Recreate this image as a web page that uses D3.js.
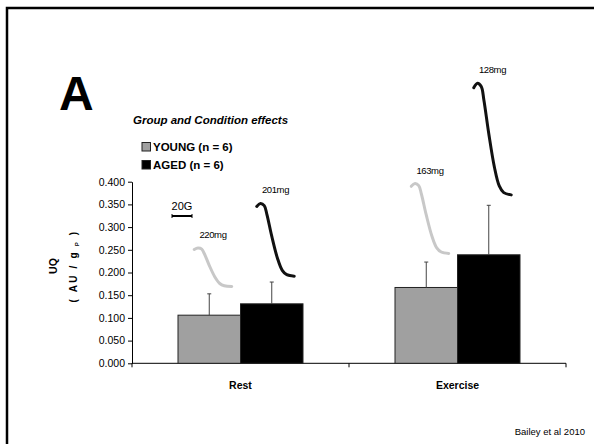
<!DOCTYPE html>
<html>
<head>
<meta charset="utf-8">
<script src="https://cdn.jsdelivr.net/npm/d3@7"></script>
<style>
  body { margin: 0; background: #fff; }
  svg { display: block; font-family: Arial, "Liberation Sans", sans-serif; }
</style>
</head>
<body>
<svg width="594" height="444"></svg>
<script>
var svg = d3.select("svg"),
  width = +svg.attr("width"),
  height = +svg.attr("height");

// data
var conditions = ["Rest", "Exercise"];
var groups = ["YOUNG (n = 6)", "AGED (n = 6)"];
var young = [0.106, 0.167];
var aged = [0.131, 0.239];
var youngSD = [0.047, 0.056];
var agedSD = [0.048, 0.109];
var yTicks = [0, 0.05, 0.1, 0.15, 0.2, 0.25, 0.3, 0.35, 0.4];
// force trace inserts: label, top and bottom in UQ units
var traceLabels = ["220mg", "201mg", "163mg", "128mg"];
var traceTop = [0.254, 0.352, 0.396, 0.617];
var traceBottom = [0.169, 0.192, 0.242, 0.371];
// generic trace shape (fraction of width / height)
var traceShape = [[0, 0.04], [0.1, 0], [0.2, 0.03], [0.27, 0.15], [0.4, 0.45],
  [0.55, 0.75], [0.68, 0.92], [0.8, 0.98], [1, 1]];

var colors = ["#a0a0a0", "#000000"];
var traceColors = ["#c8c8c8", "#111111"];

var rows = conditions.map(function(c, i) {
  return {
    cond: c,
    bars: [
      { g: 0, v: young[i], sd: youngSD[i] },
      { g: 1, v: aged[i], sd: agedSD[i] }
    ]
  };
});

// frame
svg.append("path")
  .attr("d", "M7,444V8H594")
  .attr("fill", "none")
  .attr("stroke", "#000")
  .attr("stroke-width", 2.5);

var x = d3.scaleBand().domain(conditions).range([132, 566]);
var x1 = d3.scaleBand().domain([0, 1]).range([46, 171]);
var y = d3.scaleLinear().domain([0, 0.4]).range([363.3, 181.7]);

// y axis
var yAxis = svg.append("g")
  .attr("transform", "translate(132,0)")
  .call(d3.axisLeft(y).tickValues(yTicks).tickFormat(d3.format(".3f")).tickSize(4).tickSizeOuter(0));
yAxis.select(".domain").attr("stroke", "#000");
yAxis.selectAll("text").attr("font-size", 10.5).attr("fill", "#000").attr("x", -7)
  .attr("font-family", "Arial, 'Liberation Sans', sans-serif");

// x axis
var xg = svg.append("g").attr("transform", "translate(0," + y(0) + ")");
xg.append("line").attr("x1", 132).attr("x2", 566).attr("stroke", "#000");
xg.selectAll("line.tk")
  .data([132, x("Exercise"), 566])
  .enter().append("line")
  .attr("class", "tk")
  .attr("x1", function(d) { return d; })
  .attr("x2", function(d) { return d; })
  .attr("y2", 4)
  .attr("stroke", "#000");
xg.selectAll("text")
  .data(conditions)
  .enter().append("text")
  .attr("x", function(d) { return x(d) + x.bandwidth() / 2; })
  .attr("y", 26)
  .attr("text-anchor", "middle")
  .attr("font-size", 10.5)
  .attr("font-weight", "bold")
  .text(function(d) { return d; });

// bars
var cond = svg.selectAll("g.cond")
  .data(rows)
  .enter().append("g")
  .attr("class", "cond")
  .attr("transform", function(d) { return "translate(" + x(d.cond) + ",0)"; });

cond.selectAll("rect")
  .data(function(d) { return d.bars; })
  .enter().append("rect")
  .attr("x", function(d) { return x1(d.g); })
  .attr("width", x1.bandwidth())
  .attr("y", function(d) { return y(d.v); })
  .attr("height", function(d) { return y(0) - y(d.v); })
  .attr("fill", function(d) { return colors[d.g]; })
  .attr("stroke", "#222")
  .attr("stroke-width", 1);

// error bars (upper only)
var err = cond.selectAll("g.err")
  .data(function(d) { return d.bars; })
  .enter().append("g")
  .attr("class", "err")
  .attr("stroke", "#444")
  .attr("stroke-width", 1);
err.append("line")
  .attr("x1", function(d) { return x1(d.g) + x1.bandwidth() / 2; })
  .attr("x2", function(d) { return x1(d.g) + x1.bandwidth() / 2; })
  .attr("y1", function(d) { return y(d.v); })
  .attr("y2", function(d) { return y(d.v + d.sd); });
err.append("line")
  .attr("x1", function(d) { return x1(d.g) + x1.bandwidth() / 2 - 2; })
  .attr("x2", function(d) { return x1(d.g) + x1.bandwidth() / 2 + 2; })
  .attr("y1", function(d) { return y(d.v + d.sd); })
  .attr("y2", function(d) { return y(d.v + d.sd); });

// force traces over each bar
var traces = traceLabels.map(function(l, i) {
  var c = conditions[Math.floor(i / 2)], g = i % 2;
  var bx = x(c) + x1(g), bw = x1.bandwidth();
  return { label: l, g: g, x0: bx + 0.26 * bw, x1: bx + 0.86 * bw, t: y(traceTop[i]), b: y(traceBottom[i]) };
});
var tline = d3.line().curve(d3.curveCatmullRom);
traces.forEach(function(t) {
  svg.append("path")
    .attr("d", tline(traceShape.map(function(p) {
      return [t.x0 + p[0] * (t.x1 - t.x0), t.t + p[1] * (t.b - t.t)];
    })))
    .attr("fill", "none")
    .attr("stroke", traceColors[t.g])
    .attr("stroke-width", 3)
    .attr("stroke-linecap", "round");
  svg.append("text")
    .attr("x", (t.x0 + t.x1) / 2)
    .attr("y", t.t - 10)
    .attr("text-anchor", "middle")
    .attr("font-size", 9.5)
    .attr("letter-spacing", -0.4)
    .text(t.label);
});

// 20G scale bar
svg.append("text").attr("x", 182).attr("y", 210).attr("text-anchor", "middle")
  .attr("font-size", 11).text("20G");
svg.append("line").attr("x1", 172).attr("x2", 192).attr("y1", 216).attr("y2", 216)
  .attr("stroke", "#000").attr("stroke-width", 2);
[172, 192].forEach(function(px) {
  svg.append("line").attr("x1", px).attr("x2", px).attr("y1", 214).attr("y2", 218)
    .attr("stroke", "#000").attr("stroke-width", 1);
});

// y label
var yl = svg.append("g").attr("transform", "translate(0,266) rotate(-90)");
yl.append("text").attr("x", 0).attr("y", 57).attr("text-anchor", "middle")
  .attr("font-size", 10.5).attr("font-weight", "bold").text("UQ");
var yl2 = yl.append("text").attr("x", 0).attr("y", 77).attr("text-anchor", "middle")
  .attr("font-size", 10).attr("font-weight", "bold").attr("letter-spacing", 2.2);
yl2.append("tspan").text("( AU / g");
yl2.append("tspan").attr("font-size", 6).attr("dy", 2).text(" P");
yl2.append("tspan").attr("dy", -2).text(" )");

// panel letter and title
svg.append("text").attr("x", 59).attr("y", 110).attr("font-size", 48)
  .attr("font-weight", "bold").text("A");
svg.append("text").attr("x", 133).attr("y", 124).attr("font-size", 11.5)
  .attr("font-weight", "bold").attr("font-style", "italic").text("Group and Condition effects");

// legend
var leg = svg.selectAll("g.leg")
  .data(groups)
  .enter().append("g")
  .attr("class", "leg")
  .attr("transform", function(d, i) { return "translate(142," + (142.5 + i * 18) + ")"; });
leg.append("rect").attr("width", 8.5).attr("height", 8.5)
  .attr("fill", function(d, i) { return colors[i]; })
  .attr("stroke", "#222").attr("stroke-width", 1);
leg.append("text").attr("x", 11).attr("y", 8.5).attr("font-size", 11.5)
  .attr("font-weight", "bold").text(function(d) { return d; });

// citation
svg.append("text").attr("x", 585).attr("y", 435).attr("text-anchor", "end")
  .attr("font-size", 9.5).text("Bailey et al 2010");
</script>
</body>
</html>
